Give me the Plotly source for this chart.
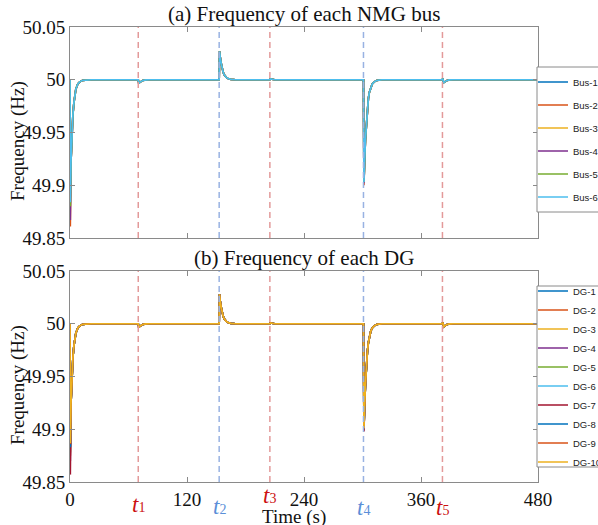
import plotly.graph_objects as go

# ---------------- data ----------------
time_s = [0, 0.3, 1, 2, 3, 4, 5, 6, 8, 10, 13, 17, 22,
          70, 70.5, 71.5, 73, 75, 78, 82,
          153, 153.4, 154, 155, 156, 157, 158, 160, 162, 165, 170,
          205, 205.5, 207, 210,
          301, 301.5, 302, 303, 304, 305, 306, 307, 308.5, 310, 312, 315, 320,
          382, 382.3, 383.2, 384.5, 386, 389, 393,
          480]

bus_base = [50.0, 49.884, 49.922, 49.950, 49.967, 49.978, 49.986, 49.991, 49.996, 49.998, 49.9995, 50.0, 50.0,
            50.0, 49.9966, 49.9975, 49.9986, 49.9994, 49.9998, 50.0,
            50.0, 50.027, 50.022, 50.016, 50.011, 50.0075, 50.005, 50.0025, 50.0012, 50.0004, 50.0,
            50.0, 50.0008, 50.0003, 50.0,
            50.0, 49.903, 49.918, 49.943, 49.960, 49.973, 49.982, 49.988, 49.993, 49.996, 49.998, 49.9995, 50.0,
            50.0, 50.0012, 49.9972, 49.998, 49.9991, 49.9998, 50.0,
            50.0]

dg_base = [50.0, 49.887, 49.924, 49.951, 49.968, 49.979, 49.986, 49.991, 49.996, 49.998, 49.9995, 50.0, 50.0,
           50.0, 49.9966, 49.9975, 49.9986, 49.9994, 49.9998, 50.0,
           50.0, 50.028, 50.022, 50.016, 50.011, 50.0075, 50.005, 50.0025, 50.0012, 50.0004, 50.0,
           50.0, 50.0008, 50.0003, 50.0,
           50.0, 49.901, 49.917, 49.942, 49.960, 49.973, 49.982, 49.988, 49.993, 49.996, 49.998, 49.9995, 50.0,
           50.0, 50.0012, 49.9972, 49.998, 49.9991, 49.9998, 50.0,
           50.0]

bus_names = ["Bus-1", "Bus-2", "Bus-3", "Bus-4", "Bus-5", "Bus-6"]
bus_colors = ["#0072BD", "#D95319", "#EDB120", "#7E2F8E", "#77AC30", "#4DBEEE"]
bus_start_min = [49.884, 49.861, 49.883, 49.867, 49.880, 49.884]
bus_t4_min = [49.903, 49.900, 49.903, 49.902, 49.903, 49.903]

dg_names = ["DG-1", "DG-2", "DG-3", "DG-4", "DG-5", "DG-6", "DG-7", "DG-8", "DG-9", "DG-10"]
dg_colors = ["#0072BD", "#D95319", "#EDB120", "#7E2F8E", "#77AC30", "#4DBEEE",
             "#A2142F", "#0072BD", "#D95319", "#EDB120"]
dg_start_min = [49.884, 49.875, 49.886, 49.870, 49.878, 49.884, 49.857, 49.883, 49.886, 49.887]
dg_t4_min = [49.901, 49.900, 49.901, 49.899, 49.901, 49.901, 49.898, 49.901, 49.901, 49.901]

event_times = [70, 153, 205, 301, 382]
event_subs = ["1", "2", "3", "4", "5"]
event_colors = ["#E39A9A", "#98B2E2", "#E39A9A", "#98B2E2", "#E39A9A"]
event_text_colors = ["#CC1111", "#5B8FD8", "#CC1111", "#5B8FD8", "#CC1111"]
event_label_y = [504, 506, 495, 507, 507]

x_ticks = [0, 120, 240, 360, 480]
y_ticks = [49.85, 49.9, 49.95, 50.0, 50.05]
y_tick_text = ["49.85", "49.9", "49.95", "50", "50.05"]

# ---------------- figure ----------------
W, H = 598, 525
i_start = time_s.index(0.3)
i_t4 = time_s.index(301.5)

fig = go.Figure()

for name, col, m0, m4 in zip(bus_names, bus_colors, bus_start_min, bus_t4_min):
    vals = list(bus_base)
    vals[i_start] = m0
    vals[i_t4] = m4
    fig.add_trace(go.Scatter(x=time_s, y=vals, mode="lines", name=name,
                             line=dict(color=col, width=1.7),
                             xaxis="x", yaxis="y", legend="legend",
                             legendgroup=name))

for name, col, m0, m4 in zip(dg_names, dg_colors, dg_start_min, dg_t4_min):
    vals = list(dg_base)
    vals[i_start] = m0
    vals[i_t4] = m4
    fig.add_trace(go.Scatter(x=time_s, y=vals, mode="lines", name=name,
                             line=dict(color=col, width=1.7),
                             xaxis="x2", yaxis="y2", legend="legend2"))

serif = "Liberation Serif, Times New Roman, serif"
sans = "Liberation Sans, Arial, sans-serif"


def px_x(p):
    return p / W


def px_y(p):
    return 1 - p / H


xdom = [px_x(70), px_x(538)]
axis_common = dict(showline=True, linecolor="#8a8a8a", linewidth=1, mirror="ticks",
                   ticks="inside", ticklen=5, tickcolor="#8a8a8a", showgrid=False,
                   zeroline=False, tickfont=dict(family=serif, size=19, color="#111"))

legend_common = dict(xanchor="left", yanchor="middle", borderwidth=0,
                     bgcolor="rgba(0,0,0,0)", font=dict(family=sans, size=9.5, color="#222"))

fig.update_layout(
    width=W, height=H,
    margin=dict(l=0, r=0, t=0, b=0, autoexpand=False),
    paper_bgcolor="white", plot_bgcolor="white",
    xaxis=dict(domain=xdom, range=[0, 480], tickvals=x_ticks, showticklabels=False,
               anchor="y", **axis_common),
    yaxis=dict(domain=[px_y(238), px_y(27)], range=[49.85, 50.05], tickvals=y_ticks,
               ticktext=y_tick_text, anchor="x", **axis_common),
    xaxis2=dict(domain=xdom, range=[0, 480], tickvals=x_ticks, anchor="y2", **axis_common),
    yaxis2=dict(domain=[px_y(482), px_y(271)], range=[49.85, 50.05], tickvals=y_ticks,
                ticktext=y_tick_text, anchor="x2", **axis_common),
    legend=dict(x=px_x(533), y=px_y(139.5), traceorder="grouped", tracegroupgap=4, **legend_common),
    legend2=dict(x=px_x(533), y=px_y(376.5), traceorder="normal", **legend_common),
    showlegend=True,
)

shapes = []
# legend boxes
for y0, y1 in ((67, 212), (286, 467)):
    shapes.append(dict(type="rect", xref="paper", yref="paper", x0=px_x(537), x1=px_x(640),
                       y0=px_y(y1), y1=px_y(y0), line=dict(color="#8a8a8a", width=1),
                       fillcolor="white", layer="above"))
for t, c in zip(event_times, event_colors):
    for xr, yr in (("x", "y domain"), ("x2", "y2 domain")):
        shapes.append(dict(type="line", xref=xr, yref=yr, x0=t, x1=t, y0=0, y1=1,
                           line=dict(color=c, width=1.5, dash="6px,4px"), layer="above"))
fig.update_layout(shapes=shapes)

annotations = [
    dict(text="(a) Frequency of each NMG bus", x=sum(xdom) / 2, y=px_y(14), xref="paper", yref="paper",
         xanchor="center", yanchor="middle", showarrow=False, font=dict(family=serif, size=21, color="#111")),
    dict(text="(b) Frequency of each DG", x=sum(xdom) / 2, y=px_y(258), xref="paper", yref="paper",
         xanchor="center", yanchor="middle", showarrow=False, font=dict(family=serif, size=21, color="#111")),
    dict(text="Frequency (Hz)", x=px_x(18), y=px_y(141), xref="paper", yref="paper", textangle=-90,
         xanchor="center", yanchor="middle", showarrow=False, font=dict(family=serif, size=19, color="#111")),
    dict(text="Frequency (Hz)", x=px_x(18), y=px_y(385), xref="paper", yref="paper", textangle=-90,
         xanchor="center", yanchor="middle", showarrow=False, font=dict(family=serif, size=19, color="#111")),
    dict(text="Time (s)", x=px_x(294), y=px_y(517), xref="paper", yref="paper",
         xanchor="center", yanchor="middle", showarrow=False, font=dict(family=serif, size=19, color="#111")),
]
for t, s, c, ly in zip(event_times, event_subs, event_text_colors, event_label_y):
    annotations.append(dict(text="<i>t</i><span style='font-size:14px'>" + s + "</span>", x=t, xref="x2",
                            y=px_y(ly), yref="paper",
                            xanchor="center", yanchor="middle", showarrow=False,
                            font=dict(family=serif, size=23, color=c)))
fig.update_layout(annotations=annotations)

fig.write_html("out.html", config={"displayModeBar": False},
               post_script="document.body.style.margin='0';")
